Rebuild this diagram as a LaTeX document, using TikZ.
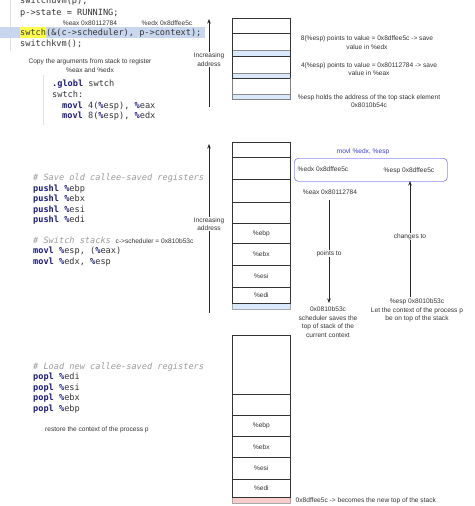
\documentclass[tikz,border=0pt]{standalone}
\usepackage{fontspec}
\setmainfont{Liberation Sans}
\newfontfamily\codefont{DejaVu Sans Mono}
\usetikzlibrary{arrows.meta}
\definecolor{kw}{HTML}{1C1C78}
\definecolor{cmt}{HTML}{9A9A9A}
\definecolor{txt}{HTML}{333333}
\definecolor{strip}{HTML}{DAE8FC}
\definecolor{pinkstrip}{HTML}{F8CECC}
\definecolor{hlblue}{HTML}{C9D7EE}
\definecolor{hlyellow}{HTML}{FFFF50}
\definecolor{boxblue}{HTML}{8A8AF0}
\definecolor{movblue}{HTML}{3A3ACC}
\newcommand{\K}[1]{\textcolor{kw}{\bfseries #1}}
\newcommand{\R}[1]{\textcolor{kw}{\bfseries\%}#1}
\begin{document}
\begin{tikzpicture}[x=1pt,y=-1pt,
  lbl/.style={font=\fontsize{6.6}{8.6}\selectfont, text=txt, align=center, inner sep=0.5pt},
  code/.style={font=\codefont\fontsize{8.6}{10.5}\selectfont, text=txt, anchor=base west, inner sep=0},
  cmtcode/.style={code, text=cmt, font=\codefont\itshape\fontsize{8.6}{10.5}\selectfont},
  cell/.style={draw=black!80, line width=0.7pt, minimum width=58, inner sep=0, font=\fontsize{6.6}{7}\selectfont, text=txt},
  arr/.style={draw=black!85, line width=0.6pt, -{Stealth[length=4.5pt,width=3.5pt]}},
]
\useasboundingbox (0,0) rectangle (474,506);

% ---------- top code ----------
\draw[black!12, line width=0.5pt] (10,0) -- (10,51);
\fill[hlblue] (0,27) rectangle (205,38);
\fill[hlyellow] (19.5,27) rectangle (46,38);
\node[code] (t0) at (20,3) {switchuvm(p);};
\node[code] (t1) at (20,15) {p->state = RUNNING;};
\node[lbl, anchor=center] (teax) at (90,23) {\%eax 0x80112784};
\node[lbl, anchor=center] (tedx) at (167,23) {\%edx 0x8dffee5c};
\node[code] (t2) at (20,35.5) {swtch(\&(c->scheduler), p->context);};
\node[code] (t3) at (20,46) {switchkvm();};

\node[lbl] (copy) at (90,65.5) {Copy the arguments from stack to register\\\%eax and \%edx};

\draw[black!12, line width=0.5pt] (43,75) -- (43,125);
\node[code] (g1) at (52,86.5) {\K{.globl} swtch};
\node[code] (g2) at (52,97) {swtch:};
\node[code] (g3) at (62,108) {\K{movl} 4(\R{esp}), \R{eax}};
\node[code] (g4) at (62,118.5) {\K{movl} 8(\R{esp}), \R{edx}};

% ---------- top stack ----------
\fill[strip] (232,50) rectangle (290,56);
\fill[strip] (232,73) rectangle (290,78);
\fill[strip] (232,94) rectangle (290,99);
\draw[black!45, line width=0.4pt] (232,50) -- (290,50) (232,73) -- (290,73) (232,94) -- (290,94);
\node[cell, minimum height=15, anchor=north west] (s1a) at (232,18) {};
\node[cell, minimum height=23, anchor=north west] (s1b) at (232,33) {};
\node[cell, minimum height=22, anchor=north west] (s1c) at (232,56) {};
\node[cell, minimum height=21, anchor=north west, draw=black!50] (s1d) at (232,78) {};
\draw[black!80, line width=0.7pt] (232,78) -- (290,78);

\coordinate (ia1b) at (209,107);
\coordinate (ia1t) at (209,19);
\draw[arr] (ia1b) -- (ia1t);
\node[lbl, fill=white] (ia1) at (209,59.5) {Increasing\\address};

\node[lbl] (n8) at (367,42.5) {8(\%esp) points to value = 0x8dffee5c -> save\\value in \%edx};
\node[lbl] (n4) at (369,69) {4(\%esp) points to value = 0x80112784 -> save\\value in \%eax};
\node[lbl] (nesp) at (369,101) {\%esp holds the address of the top stack element\\0x8010b54c};

% ---------- middle code ----------
\node[cmtcode] (m0) at (33,180.5) {\# Save old callee-saved registers};
\node[code] (m1) at (33,191) {\K{pushl} \R{ebp}};
\node[code] (m2) at (33,201.5) {\K{pushl} \R{ebx}};
\node[code] (m3) at (33,212) {\K{pushl} \R{esi}};
\node[code] (m4) at (33,222.5) {\K{pushl} \R{edi}};
\node[cmtcode] (m5) at (33,243) {\# Switch stacks};
\node[lbl, anchor=base west] (csch) at (115,243) {c->scheduler = 0x810b53c};
\node[code] (m6) at (33,253.5) {\K{movl} \R{esp}, (\R{eax})};
\node[code] (m7) at (33,264) {\K{movl} \R{edx}, \R{esp}};

% ---------- middle stack ----------
\fill[strip] (232,303) rectangle (290,309);
\draw[black!35, line width=0.4pt] (232,303) rectangle (290,309);
\node[cell, minimum height=15, anchor=north west] (s2a) at (232,142) {};
\node[cell, minimum height=22, anchor=north west] (s2b) at (232,157) {};
\node[cell, minimum height=23, anchor=north west] (s2c) at (232,179) {};
\node[cell, minimum height=21, anchor=north west] (s2d) at (232,202) {};
\node[cell, minimum height=20, anchor=north west] (s2e) at (232,223) {\%ebp};
\node[cell, minimum height=22, anchor=north west] (s2f) at (232,243) {\%ebx};
\node[cell, minimum height=22, anchor=north west] (s2g) at (232,265) {\%esi};
\node[cell, minimum height=16, anchor=north west] (s2h) at (232,287) {\%edi};

\coordinate (ia2b) at (209,313);
\coordinate (ia2t) at (209,144);
\draw[arr] (ia2b) -- (ia2t);
\node[lbl, fill=white] (ia2) at (209,224) {Increasing\\address};

\node[lbl, text=movblue] (mov) at (363,152) {movl \%edx, \%esp};
\node[draw=boxblue, line width=0.7pt, rounded corners=4pt, minimum width=153, minimum height=23, anchor=north west] (regbox) at (294,158) {};
\node[lbl] (redx) at (323,169) {\%edx 0x8dffee5c};
\node[lbl] (resp) at (409,171) {\%esp 0x8dffee5c};
\node[lbl] (reax) at (330,192) {\%eax 0x80112784};

\node[lbl, anchor=north] (sched) at (328,306) {0x0810b53c\\scheduler saves the\\top of stack of the\\current context};
\node[lbl, anchor=north] (espold) at (417,298) {\%esp 0x8010b53c\\Let the context of the process p\\be on top of the stack};

\coordinate (ptop) at (329,200);
\coordinate (pbot) at (329,303);
\draw[arr] (ptop) -- node[lbl, fill=white, pos=0.52] (pt) {points to} (pbot);
\coordinate (cbot) at (410,297);
\coordinate (ctop) at (410,181);
\draw[arr] (cbot) -- node[lbl, fill=white, pos=0.52] (ct) {changes to} (ctop);

% ---------- bottom code ----------
\node[cmtcode] (b0) at (33,369) {\# Load new callee-saved registers};
\node[code] (b1) at (33,379.5) {\K{popl} \R{edi}};
\node[code] (b2) at (33,390) {\K{popl} \R{esi}};
\node[code] (b3) at (33,400.5) {\K{popl} \R{ebx}};
\node[code] (b4) at (33,411) {\K{popl} \R{ebp}};
\node[lbl, anchor=west] (restore) at (44.5,430) {restore the context of the process p};

% ---------- bottom stack ----------
\fill[pinkstrip] (232,497) rectangle (290,503);
\draw[black!35, line width=0.4pt] (232,497) rectangle (290,503);
\node[cell, minimum height=59, anchor=north west] (s3a) at (232,335) {};
\node[cell, minimum height=21, anchor=north west] (s3b) at (232,394) {};
\node[cell, minimum height=21, anchor=north west] (s3c) at (232,415) {\%ebp};
\node[cell, minimum height=21, anchor=north west] (s3d) at (232,436) {\%ebx};
\node[cell, minimum height=22, anchor=north west] (s3e) at (232,457) {\%esi};
\node[cell, minimum height=18, anchor=north west] (s3f) at (232,479) {\%edi};
\node[lbl, anchor=west] (newtop) at (295,500.5) {0x8dffee5c -> becomes the new top of the stack};
\end{tikzpicture}
\end{document}
